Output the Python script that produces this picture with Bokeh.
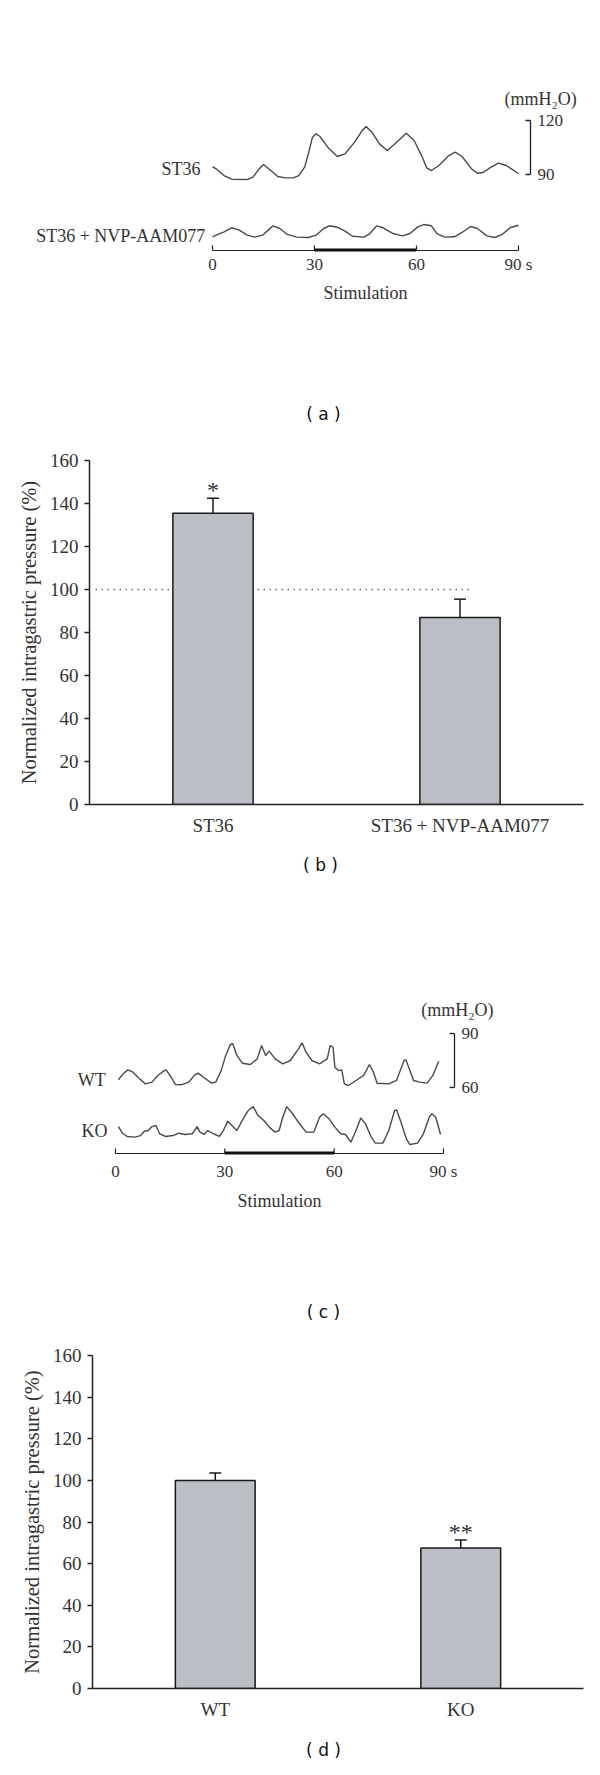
from bokeh.plotting import figure
from bokeh.models import (Range1d, LinearAxis, FixedTicker, Whisker, TeeHead, Title,
                          ColumnDataSource)
from bokeh.core.properties import value
from bokeh.layouts import column, row
from bokeh.embed import file_html
from bokeh.resources import INLINE

# ---------------- data ----------------
# (a) intragastric pressure traces (time s, pressure mmH2O)
st36_t = [0, 1.1, 3.4, 5.6, 10.2, 11.9, 13.5, 15.0, 16.9, 19.2, 21.5, 23.7, 25.4, 27.1, 28.2,
          29.4, 30.5, 31.6, 33.9, 36.7, 39.0, 41.8, 44.0, 45.2, 46.9, 49.1, 51.4, 53.6, 57.0,
          59.3, 61.5, 63.0, 64.4, 66.6, 69.5, 71.4, 73.4, 76.2, 77.9, 79.6, 81.9, 84.1, 86.4,
          88.7, 90.0]
st36_p = [94.4, 93.1, 89.4, 87.4, 87.2, 88.5, 92.6, 95.6, 92.6, 88.9, 88.1, 88.1, 89.4, 94.1,
          101.5, 110.7, 112.6, 111.1, 105.2, 100.0, 101.5, 108.0, 114.4, 116.6, 113.5, 107.0,
          103.3, 107.0, 112.9, 108.9, 100.5, 93.7, 92.2, 95.0, 100.5, 102.4, 100.0, 93.1, 90.7,
          91.1, 94.1, 96.3, 95.0, 92.2, 90.4]
nvp_t = [0, 1.1, 3.4, 5.6, 7.9, 10.2, 12.4, 14.7, 16.4, 17.8, 19.8, 22.0, 24.8, 28.2, 30.5,
         32.7, 34.4, 36.7, 39.0, 41.2, 44.6, 46.3, 48.3, 50.2, 53.1, 55.9, 58.1, 60.4, 62.1,
         64.4, 66.0, 68.3, 71.1, 73.4, 75.9, 77.9, 80.7, 83.0, 85.2, 87.5, 90.0]
nvp_p = [90.4, 91.3, 93.1, 95.4, 94.1, 91.3, 90.2, 91.3, 94.1, 96.5, 95.0, 91.7, 90.2, 90.0,
         91.3, 95.0, 96.5, 95.7, 93.5, 90.7, 90.2, 92.2, 96.5, 95.4, 92.2, 90.9, 92.2, 95.9,
         97.2, 96.5, 92.2, 90.2, 90.4, 92.8, 96.1, 95.0, 90.9, 90.0, 91.7, 95.4, 96.8]

# (b) normalized pressure (%)
cats_b = ["ST36", "ST36 + NVP-AAM077"]
vals_b = [135.5, 87.0]
errs_b = [7.0, 8.5]
sig_b = ["*", ""]
baseline_b = 100

# (c) traces WT / KO
wt_t = [0.8, 2.1, 3.4, 4.8, 6.3, 8.2, 10.0, 11.6, 13.2, 13.9, 15.3, 16.4, 18.0, 20.1, 21.6,
        22.7, 24.3, 26.4, 27.5, 29.0, 30.1, 31.5, 32.2, 33.3, 34.8, 37.0, 38.9, 40.1, 41.2,
        42.2, 43.8, 45.9, 48.0, 50.2, 51.2, 52.3, 53.9, 56.0, 58.1, 58.9, 59.7, 60.2, 61.2,
        62.1, 62.8, 63.9, 66.0, 68.1, 69.7, 70.8, 71.8, 75.0, 77.1, 79.2, 79.7, 80.8, 81.8,
        83.4, 85.5, 87.1, 88.7]
wt_p = [64.3, 67.6, 69.8, 68.5, 65.4, 62.0, 63.0, 66.7, 69.1, 69.8, 65.7, 61.7, 61.5, 63.0,
        66.7, 68.0, 65.4, 62.4, 63.0, 69.4, 76.9, 83.9, 84.3, 77.8, 73.5, 72.8, 75.9, 83.3,
        77.8, 80.2, 75.9, 73.1, 75.0, 81.5, 84.8, 79.6, 75.0, 73.1, 75.9, 83.3, 82.4, 71.3,
        69.4, 69.8, 62.0, 61.1, 63.9, 66.7, 72.8, 68.5, 62.4, 62.0, 63.9, 75.0, 75.4, 69.4,
        63.9, 63.0, 62.4, 66.7, 74.6]
ko_t = [0.8, 1.9, 3.2, 5.3, 6.9, 7.9, 9.0, 10.0, 11.1, 12.1, 13.7, 15.8, 17.4, 19.0, 21.1,
        22.4, 23.2, 24.3, 25.3, 26.9, 28.5, 29.6, 30.8, 32.2, 33.3, 34.8, 36.4, 37.8, 39.1,
        40.7, 42.2, 43.8, 44.9, 45.9, 47.0, 48.6, 50.2, 52.3, 54.4, 56.0, 57.0, 58.6, 60.2,
        61.8, 63.1, 64.6, 66.0, 67.3, 68.6, 70.2, 71.3, 73.4, 75.0, 76.6, 77.1, 78.2, 79.8,
        80.8, 82.9, 84.5, 86.1, 86.8, 87.9, 89.2]
ko_p = [65.9, 62.2, 60.4, 60.0, 60.9, 63.3, 63.7, 65.9, 66.5, 61.9, 60.4, 60.9, 62.2, 61.5,
        61.9, 65.9, 62.8, 61.5, 63.7, 61.9, 60.4, 63.7, 68.9, 65.9, 63.7, 69.3, 74.8, 77.0,
        72.0, 69.3, 65.6, 62.8, 63.7, 71.1, 77.0, 73.0, 68.3, 62.8, 62.8, 71.1, 73.0, 70.2,
        65.6, 61.9, 61.5, 57.2, 63.7, 70.7, 67.4, 60.0, 56.7, 56.7, 63.7, 74.8, 75.2, 69.3,
        59.1, 55.9, 56.7, 61.9, 71.1, 73.0, 71.1, 61.5]

# (d) normalized pressure (%)
cats_d = ["WT", "KO"]
vals_d = [100.0, 67.5]
errs_d = [3.5, 3.8]
sig_d = ["", "**"]

time_ticks = [0, 30, 60, 90]
time_labels = ["0", "30", "60", "90 s"]
stim_window = (30, 60)
pct_ticks = [0, 20, 40, 60, 80, 100, 120, 140, 160]

# ---------------- style ----------------
SERIF = "Liberation Serif"
SANS = "DejaVu Sans"
TXT = "#333333"
TRACE = "#4a4a4a"
AX = "#222222"
BAR_FILL = "#bcbec5"
W = 600


def base_fig(h, xr, yr, **borders):
    p = figure(width=W, height=h, x_range=xr, y_range=yr, x_axis_type=None,
               y_axis_type=None, output_backend="svg", toolbar_location=None, **borders)
    p.outline_line_color = None
    p.background_fill_color = "white"
    p.border_fill_color = "white"
    return p


def txt(p, xs, ys, texts, size="18px", font=SERIF, align="center", color=TXT):
    p.text(x=xs, y=ys, text=texts, text_align=align, text_baseline="middle",
           text_font=value(font), text_font_size=value(size), text_color=color)


def trace_panel(h, xr, yr, ppx, ppy, axis_y, lab_dy, stim_dy, tag_dy, scale, scale_x,
                tr1, tr2, off2, names, name_pos, unit_pos, tag):
    p = base_fig(h, xr, yr, min_border_left=0, min_border_top=0,
                 min_border_right=0, min_border_bottom=0)
    p.line(tr1[0], tr1[1], line_color=TRACE, line_width=1.4)
    p.line(tr2[0], [v + off2 for v in tr2[1]], line_color=TRACE, line_width=1.4)
    # time scale (0-90 s) with stimulation window
    t0, t1 = time_ticks[0], time_ticks[-1]
    p.segment(x0=[t0], x1=[t1], y0=[axis_y], y1=[axis_y], line_color=AX, line_width=1.2)
    p.segment(x0=time_ticks, x1=time_ticks, y0=[axis_y] * len(time_ticks),
              y1=[axis_y + 5 / ppy] * len(time_ticks), line_color=AX, line_width=1.2)
    p.segment(x0=[stim_window[0]], x1=[stim_window[1]], y0=[axis_y + 0.6 / ppy],
              y1=[axis_y + 0.6 / ppy], line_color="#111111", line_width=3)
    txt(p, time_ticks, [axis_y - lab_dy / ppy] * len(time_ticks), time_labels, size="17px")
    txt(p, [(t0 + t1) / 2], [axis_y - stim_dy / ppy], ["Stimulation"], size="18px")
    txt(p, [tag[1] / ppx], [axis_y - tag_dy / ppy], [tag[0]], size="17px", font=SANS,
        color="#111111")
    # pressure scale bar
    nub = 5.0 / ppx
    p.segment(x0=[scale_x], x1=[scale_x], y0=[scale[0]], y1=[scale[1]],
              line_color=AX, line_width=1.3)
    p.segment(x0=[scale_x - nub] * 2, x1=[scale_x] * 2, y0=list(scale), y1=list(scale),
              line_color=AX, line_width=1.3)
    txt(p, [scale_x + 7.0 / ppx] * 2, list(scale), [str(s) for s in scale],
        size="17px", align="left")
    txt(p, [q[0] for q in name_pos], [q[1] for q in name_pos], names, align="right")
    txt(p, [unit_pos[0]], [unit_pos[1]], ["(mmH\u2082O)"])
    return p


def bar_panel(h, cats, vals, errs, sig, tag, tag_offset, tag_standoff, bt, bb, bl, ref=None):
    p = base_fig(h, Range1d(0, 2 * len(cats)), Range1d(0, 160), min_border_left=bl,
                 min_border_top=bt, min_border_right=17, min_border_bottom=bb)
    xs = [2 * i + 1 for i in range(len(cats))]
    src = ColumnDataSource(dict(x=xs, top=vals, upper=[v + e for v, e in zip(vals, errs)],
                                sig=sig))
    if ref is not None:
        p.line(x=[0.05, 3.1], y=[ref, ref], line_color=AX, line_width=1.4, line_dash="1 5")
    p.vbar(x="x", top="top", width=0.65, source=src, fill_color=BAR_FILL,
           line_color="#1a1a1a", line_width=1.5)
    p.add_layout(Whisker(source=src, base="x", lower="top", upper="upper", dimension="height",
                         lower_head=None, upper_head=TeeHead(size=12, line_width=1.5,
                                                             line_color="#1a1a1a"),
                         line_width=1.5, line_color="#1a1a1a"))
    p.text(x="x", y="upper", text="sig", source=src, text_align="center",
           text_baseline="alphabetic", y_offset=-8, text_font=value(SERIF),
           text_font_size=value("24px"), text_color=TXT)
    ya = LinearAxis(ticker=FixedTicker(ticks=pct_ticks))
    ya.axis_label = "Normalized intragastric pressure (%)"
    ya.axis_label_text_font = SERIF
    ya.axis_label_text_font_style = "normal"
    ya.axis_label_text_font_size = "20.5px"
    ya.axis_label_text_color = TXT
    ya.axis_label_standoff = 7
    ya.major_label_text_font = SERIF
    ya.major_label_text_font_size = "19px"
    ya.major_label_text_color = TXT
    ya.major_label_standoff = 6
    ya.major_tick_in = 0
    ya.major_tick_out = 5
    ya.minor_tick_line_color = None
    ya.axis_line_width = 1.5
    ya.major_tick_line_width = 1.5
    ya.axis_line_color = AX
    ya.major_tick_line_color = AX
    p.add_layout(ya, "left")
    xa = LinearAxis(ticker=FixedTicker(ticks=xs))
    xa.major_label_overrides = {x: c for x, c in zip(xs, cats)}
    xa.major_label_text_font = SERIF
    xa.major_label_text_font_size = "19px"
    xa.major_label_text_color = TXT
    xa.major_label_standoff = 4
    xa.major_tick_line_color = None
    xa.minor_tick_line_color = None
    xa.axis_line_width = 1.5
    xa.axis_line_color = AX
    p.add_layout(xa, "below")
    p.add_layout(Title(text=tag, align="left", offset=tag_offset, standoff=tag_standoff,
                       text_font=SANS, text_font_size="17px", text_font_style="normal",
                       text_color="#111111"), "below")
    return p


# panel (a): 3.4 px per s, 1.8 px per mmH2O; 0 s at x=212 px
pA = trace_panel(440, Range1d(-62.35, 114.12), Range1d(-57.78, 186.67), 3.4, 1.8,
                 47.78, 14, 43, 164, (90, 120), 93.53,
                 (st36_t, st36_p), (nvp_t, nvp_p), -35.0,
                 ["ST36", "ST36 + NVP-AAM077"], [(-3.5, 93.3), (-2.1, 56.1)],
                 (96.5, 131.7), ("( a )", 323 - 212))

pB = bar_panel(460, cats_b, vals_b, errs_b, sig_b, "( b )", 213.6, 29,
               bt=20, bb=96, bl=89, ref=baseline_b)

# panel (c): 3.644 px per s, 1.8 px per mmH2O; 0 s at x=115 px
pC = trace_panel(440, Range1d(-31.56, 133.10), Range1d(-80.56, 163.89), 3.644, 1.8,
                 23.33, 18, 47, 159, (60, 90), 93.03,
                 (wt_t, wt_p), (ko_t, ko_p), -27.6,
                 ["WT", "KO"], [(-2.7, 63.9), (-2.2, 36.1)],
                 (93.85, 102.8), ("( c )", 323 - 115))

pD = bar_panel(434, cats_d, vals_d, errs_d, sig_d, "( d )", 213.6, 30,
               bt=15, bb=76, bl=92)

layout = column(row(pA), row(pB), row(pC), row(pD), spacing=0)
open("out.html", "w").write(file_html(layout, INLINE))
